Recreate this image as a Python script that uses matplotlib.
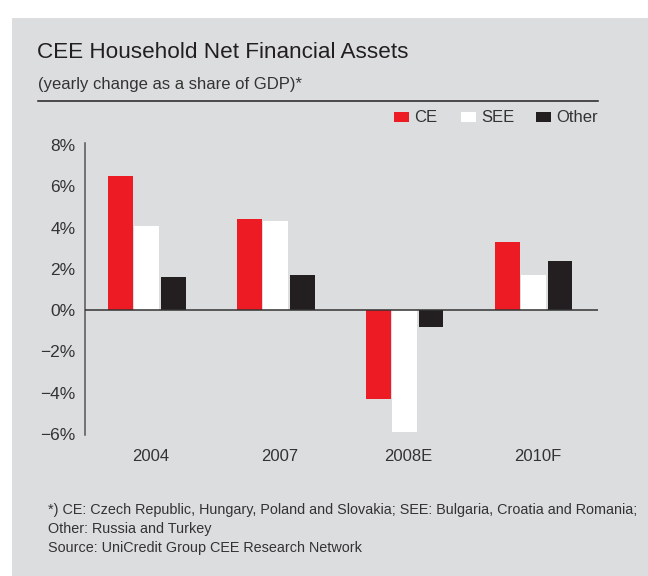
import matplotlib
matplotlib.use("Agg")
import matplotlib.pyplot as plt
from matplotlib.patches import Rectangle
from matplotlib.transforms import ScaledTranslation
import numpy as np

categories = ["2004", "2007", "2008E", "2010F"]
series_names = ["CE", "SEE", "Other"]
ce_values = [6.5, 4.4, -4.3, 3.3]
see_values = [4.1, 4.3, -5.9, 1.7]
other_values = [1.6, 1.7, -0.8, 2.4]
yticks = [8, 6, 4, 2, 0, -2, -4, -6]
ytick_labels = ["8%", "6%", "4%", "2%", "0%", "\u22122%", "\u22124%", "\u22126%"]

colors = ["#ed1c24", "#ffffff", "#231f20"]
bg = "#dcdddf"
txt = "#333333"

plt.rcParams['font.family'] = ['Liberation Sans', 'DejaVu Sans']

W, H = 648, 576
fig = plt.figure(figsize=(W / 100, H / 100), dpi=100)
fig.patch.set_facecolor("white")

def fx(px):
    return px / W

def fy(py):
    return 1 - py / H

# gray panel
fig.patches.append(Rectangle((fx(12), 0), 1 - fx(12), fy(18), transform=fig.transFigure,
                             facecolor=bg, edgecolor="none", zorder=-10))

fig.text(fx(37), fy(53), "CEE Household Net Financial Assets", fontsize=16.2,
         color="#231f20", va="center", ha="left")
fig.text(fx(38), fy(85), "(yearly change as a share of GDP)*", fontsize=12,
         color=txt, va="center", ha="left")
fig.lines.append(plt.Line2D([fx(38), fx(598)], [fy(100.5), fy(100.5)], transform=fig.transFigure,
                            color="#231f20", lw=1.1))

# legend
sq_x = [394, 461, 536]
for name, c, sx in zip(series_names, colors, sq_x):
    fig.patches.append(Rectangle((fx(sx), fy(122)), fx(15), 10 / H, transform=fig.transFigure,
                                 facecolor=c, edgecolor="none"))
    fig.text(fx(sx + 20), fy(117), name, fontsize=12, color=txt, va="center", ha="left")

ax = fig.add_axes([fx(85), fy(435), fx(598) - fx(85), (435 - 143) / H])
ax.set_facecolor("none")
x = np.arange(len(categories))
bw = 0.192
step = 0.205
for i, (vals, c) in enumerate(zip([ce_values, see_values, other_values], colors)):
    ax.bar(x + (i - 1) * step, vals, width=bw, color=c, edgecolor="none", zorder=2)

ax.axhline(0, color="#333333", lw=1.1, zorder=3)
ax.set_xlim(-0.48, 3.5)
ax.set_ylim(-6.05, 8.1)
for s in ["top", "right", "bottom"]:
    ax.spines[s].set_visible(False)
ax.spines["left"].set_color("#555555")
ax.spines["left"].set_linewidth(1.1)
ax.set_yticks(yticks)
ax.set_yticklabels(ytick_labels)
ax.set_xticks(x)
ax.set_xticklabels(categories)
ax.tick_params(axis="y", length=0, pad=7, labelsize=12.5, labelcolor=txt)
ax.tick_params(axis="x", length=0, pad=10, labelsize=12, labelcolor=txt)
off = ScaledTranslation(4 / 100, 0, fig.dpi_scale_trans)
for lab in ax.get_xticklabels():
    lab.set_transform(lab.get_transform() + off)

foot = ("*) CE: Czech Republic, Hungary, Poland and Slovakia; SEE: Bulgaria, Croatia and Romania;\n"
        "Other: Russia and Turkey\n"
        "Source: UniCredit Group CEE Research Network")
fig.text(fx(48), fy(503), foot, fontsize=10.4, color=txt, va="top", ha="left", linespacing=1.45)

fig.savefig("out.png", dpi=100)
